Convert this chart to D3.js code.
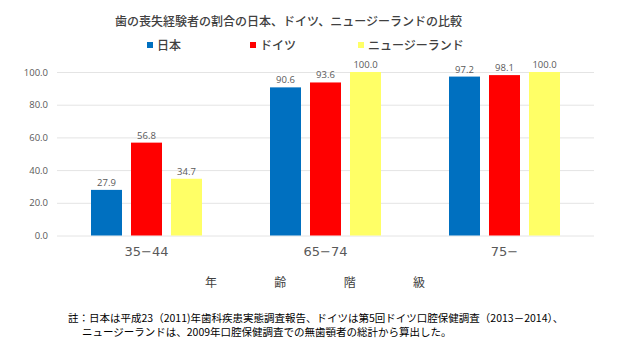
<!DOCTYPE html>
<html>
<head>
<meta charset="utf-8">
<script src="https://d3js.org/d3.v7.min.js"></script>
<style>
  body { margin: 0; background: #fff; }
  svg { display: block; font-family: "Noto Sans CJK JP", sans-serif; }
</style>
</head>
<body>
<div id="chart"></div>
<script>
// chart data
const ageGroups = ["35−44", "65−74", "75−"]
const countries = ["日本", "ドイツ", "ニュージーランド"]
const japan = [27.9, 90.6, 97.2]
const germany = [56.8, 93.6, 98.1]
const newZealand = [34.7, 100.0, 100.0]
const yTicks = [0, 20, 40, 60, 80, 100]
const axisTitleChars = ["年", "齢", "階", "級"]
const noteLines = [
  "註：日本は平成23（2011)年歯科疾患実態調査報告、ドイツは第5回ドイツ口腔保健調査（2013－2014）、",
  "ニュージーランドは、2009年口腔保健調査での無歯顎者の総計から算出した。"
]

const colors = ["#0070C0", "#FF0000", "#FFFF66"]
const seriesValues = [japan, germany, newZealand]

const width = 620, height = 349

const svg = d3.select("#chart")
  .append("svg")
  .attr("width", width)
  .attr("height", height)

// Scales: one band per age group, then a sub band per country.
let x = d3.scaleBand()
  .domain(ageGroups)
  .range([57, 594])
let xSub = d3.scaleBand()
  .domain(countries)
  .range([0, x.bandwidth()])
  .paddingInner(0.225)
  .paddingOuter(0.85)
let y = d3.scaleLinear()
  .domain([0, 100])
  .range([235.5, 72])
let color = d3.scaleOrdinal().domain(countries).range(colors)

// Gridlines with the y axis labels.
let yAxis = d3.axisLeft(y)
  .tickValues(yTicks)
  .tickFormat(d3.format(".1f"))
  .tickSize(-(x.range()[1] - x.range()[0]))
  .tickPadding(9)
svg.append("g")
  .attr("transform", "translate(57,0)")
  .call(yAxis)
  .call(g => g.select(".domain").remove())
  .call(g => g.selectAll("line").attr("stroke", "#E4E4E4").attr("stroke-width", 1))
  .call(g => g.selectAll("text")
    .attr("fill", "#595959")
    .style("font-size", "9.5px")
    .style("font-family", "'Open Sans', sans-serif"))

// Bars.
let rows = []
ageGroups.forEach(function (g, i) {
  countries.forEach(function (c, j) {
    rows.push({group: g, country: c, value: seriesValues[j][i]})
  })
})

svg.append("g")
  .selectAll("rect")
  .data(rows)
  .join("rect")
  .attr("x", d => x(d.group) + xSub(d.country))
  .attr("y", d => y(d.value))
  .attr("width", xSub.bandwidth())
  .attr("height", d => y(0) - y(d.value))
  .attr("fill", d => color(d.country))

// Value labels above the bars.
svg.append("g")
  .selectAll("text")
  .data(rows)
  .join("text")
  .attr("x", d => x(d.group) + xSub(d.country) + xSub.bandwidth() / 2)
  .attr("y", d => y(d.value) - 4)
  .attr("text-anchor", "middle")
  .attr("fill", "#595959")
  .style("font-size", "9.5px")
  .style("font-family", "'Open Sans', sans-serif")
  .text(d => d3.format(".1f")(d.value))

// X axis labels.
let xAxis = d3.axisBottom(x).tickSize(0).tickPadding(11)
svg.append("g")
  .attr("transform", "translate(0," + y(0) + ")")
  .call(xAxis)
  .call(g => g.select(".domain").remove())
  .call(g => g.selectAll("text")
    .attr("fill", "#595959")
    .style("font-size", "13px")
    .style("font-family", "'DejaVu Sans', sans-serif"))

// Axis title, spread across the chart.
let titleX = d3.scalePoint().domain(axisTitleChars).range([211, 419])
svg.append("g")
  .selectAll("text")
  .data(axisTitleChars)
  .join("text")
  .attr("x", d => titleX(d))
  .attr("y", 287)
  .attr("text-anchor", "middle")
  .attr("fill", "#404040")
  .style("font-size", "12px")
  .text(d => d)

// Title.
svg.append("text")
  .attr("x", 288.5)
  .attr("y", 26)
  .attr("text-anchor", "middle")
  .attr("fill", "#404040")
  .style("font-size", "12px")
  .style("font-weight", "500")
  .text("歯の喪失経験者の割合の日本、ドイツ、ニュージーランドの比較")

// Legend.
let legendX = [147, 250, 358]
let legend = svg.append("g")
  .selectAll("g")
  .data(countries)
  .join("g")
  .attr("transform", (d, i) => "translate(" + legendX[i] + ",45)")
legend.append("rect")
  .attr("x", 0)
  .attr("y", -3)
  .attr("width", 6)
  .attr("height", 6)
  .attr("fill", d => color(d))
legend.append("text")
  .attr("x", 10)
  .attr("y", 5)
  .attr("fill", "#404040")
  .style("font-size", "12px")
  .style("font-weight", "500")
  .text(d => d)

// Note under the chart.
svg.append("g")
  .selectAll("text")
  .data(noteLines)
  .join("text")
  .attr("x", (d, i) => i == 0 ? 68 : 82)
  .attr("y", (d, i) => 322 + i * 13.5)
  .attr("fill", "#000")
  .style("font-size", "10.5px")
  .text(d => d)
</script>
</body>
</html>
